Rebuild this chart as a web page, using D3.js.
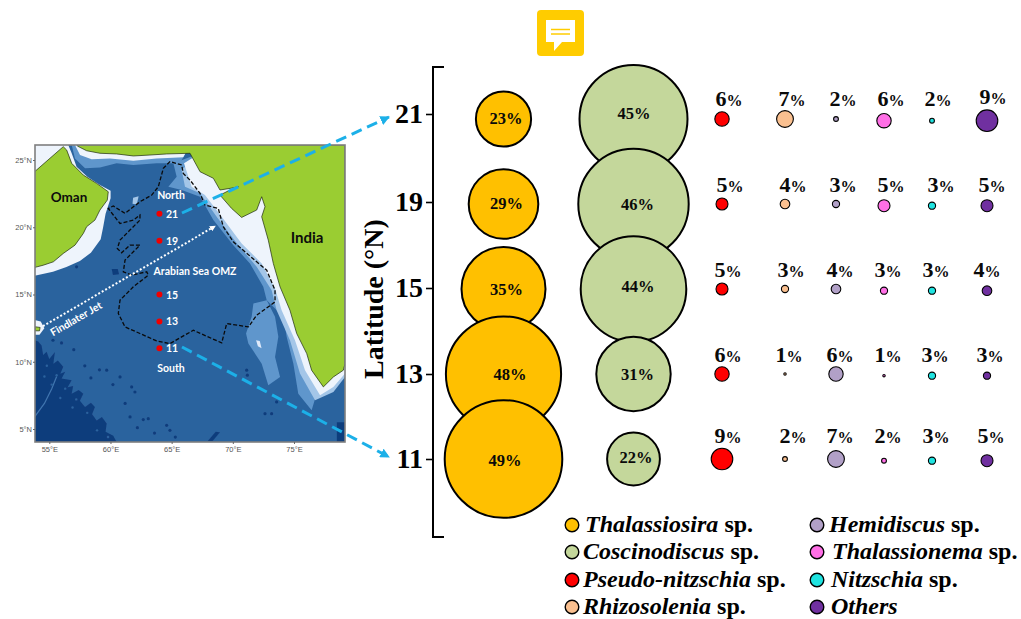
<!DOCTYPE html>
<html>
<head>
<meta charset="utf-8">
<script src="https://cdn.jsdelivr.net/npm/d3@7"></script>
<style>
  html, body { margin: 0; padding: 0; background: #fff; }
  svg { display: block; }
</style>
</head>
<body>
<svg id="chart" width="1021" height="619"></svg>
<script>
// bubble values, one row per latitude
const latitudes = [21, 19, 15, 13, 11];
const speciesNames = ["Thalassiosira", "Coscinodiscus", "Pseudo-nitzschia", "Rhizosolenia", "Hemidiscus", "Thalassionema", "Nitzschia", "Others"];
const speciesColors = ["#ffc000", "#c4d79b", "#ff0000", "#fac090", "#b1a0c7", "#ff6fe6", "#1fe3e0", "#7030a0"];
const thalassiosira = [23, 29, 35, 48, 49];
const coscinodiscus = [45, 46, 44, 31, 22];
const pseudoNitzschia = [6, 5, 5, 6, 9];
const rhizosolenia = [7, 4, 3, 1, 2];
const hemidiscus = [2, 3, 4, 6, 7];
const thalassionema = [6, 5, 3, 1, 2];
const nitzschia = [2, 3, 3, 3, 3];
const others = [9, 5, 4, 3, 5];
const shares = [thalassiosira, coscinodiscus, pseudoNitzschia, rhizosolenia, hemidiscus, thalassionema, nitzschia, others];

// map outlines as [lon, lat]
const lonTicks = [55, 60, 65, 70, 75];
const latTicks = [25, 20, 15, 10, 5];
const stationLon = 64;
const omanLand = [[56.14,25.99],[56.42,25.74],[56.83,24.75],[57.78,23.88],[58.87,23.26],[59.82,22.64],[59.74,22.02],[59.14,21.28],[58.73,20.53],[58.05,20.04],[57.78,19.54],[57.10,18.67],[56.14,18.05],[55.33,17.43],[54.51,17.18],[53.8,17.01],[53.8,24.13]];
const indiaLand = [[57.29,26.04],[58.05,25.69],[59.14,25.50],[60.50,25.45],[61.87,25.30],[63.23,25.37],[64.59,25.45],[66.50,25.50],[67.32,24.13],[68.41,23.64],[68.95,22.77],[69.77,22.89],[70.45,23.01],[69.77,22.77],[68.95,22.39],[69.90,21.40],[70.72,20.73],[71.95,21.28],[72.36,22.27],[72.63,21.53],[72.36,20.78],[72.90,19.04],[73.31,17.31],[73.86,15.57],[74.67,13.83],[75.22,12.10],[76.04,10.61],[76.44,9.37],[77.40,8.13],[78.22,8.87],[79.03,9.37],[79.17,9.86],[79.17,26.12],[57.29,26.12]];
const deepBasin = [[53.8,11.6],[54.1,11.5],[54.37,11.2],[54.5,10.5],[54.78,10.75],[55.0,10.2],[55.46,10.73],[55.33,9.86],[55.7,10.1],[56.14,9.62],[55.9,9.1],[56.3,9.25],[56.01,8.75],[56.83,8.62],[56.5,8.1],[56.95,8.2],[56.83,7.63],[57.4,7.9],[57.78,7.63],[57.5,7.1],[57.92,6.64],[58.4,6.95],[58.73,6.64],[58.5,6.1],[58.87,5.64],[59.3,5.9],[59.69,5.4],[59.6,4.8],[60.23,4.5],[60.5,4.03],[53.8,4.03]];
const deepCorner = [[78.5,5.5],[79.17,5.5],[79.17,4.03],[78.5,4.03]];
const deepPatch = [[60.1,16.9],[60.6,16.9],[60.7,16.5],[60.2,16.45]];
const deepSliver = [[67.95,4.1],[68.35,4.1],[68.95,4.75],[68.6,4.8]];
const shelfOuter = [[65.14,24.75],[65.41,23.76],[64.73,23.01],[65.82,22.77],[67.32,22.27],[68.41,20.53],[70.04,18.67],[71.40,17.31],[72.49,15.57],[72.77,14.58],[74.13,13.34],[74.40,11.85],[74.95,9.86],[75.35,7.63],[76.44,6.39],[76.85,7.63],[78.22,8.13],[79.17,9.0],[79.17,12.34],[72.77,22.27],[67.32,25.50]];
const shelfMiddle = [[65.82,24.26],[66.09,23.01],[67.32,22.52],[68.68,20.78],[70.45,18.67],[71.95,17.06],[73.17,15.32],[73.58,13.83],[74.67,11.60],[75.49,9.12],[76.72,7.13],[78.22,7.75],[79.17,8.87],[79.17,12.34],[72.77,22.27],[67.32,25.50]];
const shelfInner = [[66.01,24.75],[66.63,23.01],[67.72,22.39],[69.09,20.78],[70.72,18.80],[72.36,17.31],[73.45,15.45],[73.99,13.83],[75.08,11.60],[75.90,9.37],[77.13,7.51],[78.22,8.13],[79.17,9.12],[79.17,12.34],[72.77,22.27],[67.32,25.50]];
const laccadiveBank = [[71.68,14.33],[72.77,14.58],[73.45,13.34],[73.72,11.85],[73.45,10.36],[73.86,8.87],[72.90,8.25],[72.36,9.86],[71.27,11.35],[71.08,12.10],[71.54,13.34]];
const laccadiveFleck = [[71.9,11.6],[72.2,11.55],[72.35,11.0],[72.05,11.15]];
const omanShelf = [[53.8,26.12],[56.55,26.12],[56.83,25.5],[57.23,24.5],[58.11,23.76],[59.14,23.14],[60.01,22.72],[60.01,22.15],[59.6,21.0],[59.4,20.0],[59.2,19.1],[58.4,18.1],[57.5,17.5],[56.4,17.05],[55.3,16.7],[53.8,16.4]];
const makranOuter = [[56.83,26.12],[57.10,25.12],[57.92,24.38],[59.14,24.45],[60.5,24.75],[61.87,24.63],[63.77,24.75],[65.68,24.75],[66.5,26.12]];
const makranInner = [[57.10,26.12],[57.51,25.37],[58.46,25.05],[59.96,25.12],[61.87,24.95],[63.77,25.12],[65.95,25.2],[66.5,26.12]];
const offshoreFleck = [[61.85,22.2],[62.3,22.3],[62.15,21.7],[61.8,21.75]];
const socotraShelf = [[53.8,13.1],[54.3,13.0],[54.6,12.5],[54.2,12.0],[53.8,12.0]];
const socotraLand = [[53.85,12.6],[54.25,12.55],[54.2,12.3],[53.85,12.3]];
const omzBoundary = [[65.82,24.63],[64.86,24.88],[64.32,24.38],[63.91,23.01],[63.37,22.39],[62.41,21.9],[61.19,21.03],[60.23,21.58],[59.82,21.4],[60.23,20.91],[60.78,20.28],[61.87,20.53],[62.41,20.91],[62.41,20.53],[61.59,19.79],[60.78,19.04],[60.56,18.42],[60.91,18.1],[61.59,18.67],[62.41,18.67],[61.87,18.18],[61.19,17.56],[61.05,16.69],[61.73,16.44],[62.96,16.69],[63.09,16.44],[61.87,15.57],[60.78,14.58],[60.64,13.59],[61.19,12.59],[62.41,12.1],[63.77,11.55],[64.86,11.35],[66.77,12.34],[69.09,11.4],[69.5,12.84],[71.27,12.59],[71.95,13.46],[73.45,14.45],[73.45,15.32],[72.77,16.81],[71.95,17.43],[70.04,18.92],[69.22,20.04],[68.81,21.4],[67.72,21.65],[67.32,22.52],[66.5,23.51],[65.95,24.0],[65.82,24.63]];
const darkSpecks = [[62.68,5.7],[63.09,5.77],[64.86,4.9],[64.59,5.27],[62.0,7.75],[61.73,8.13],[60.78,8.87],[59.69,9.37],[71.13,9.37],[71.19,9.0],[73.17,6.14],[73.58,7.01],[72.63,6.14],[57.23,17.06],[57.0,10.9],[57.9,9.7],[58.4,8.8],[59.1,9.4],[60.2,8.3],[61.2,6.9],[61.6,5.9],[62.2,5.1],[63.6,4.7],[65.3,4.4],[56.0,11.4],[55.3,11.6]];
const lightSpecks = [[54.8,9.7],[55.6,9.0],[56.3,8.0],[57.2,7.2],[58.1,6.2],[58.9,4.9],[55.2,8.3],[56.9,6.6],[55.9,7.3],[59.8,4.4],[54.6,8.9]];
const jetPath = [[54.48,12.65],[68.4,20.0]];
const deepSeam = [[53.8,5.9],[54.6,6.9],[55.2,8.0],[55.6,8.9]];

const svg = d3.select("#chart");
const serif = "'Liberation Serif', 'Times New Roman', serif";
const sans = "Lato, 'Open Sans', sans-serif";

// ---- map panel ----
const frame = { left: 35, right: 345, top: 145, bottom: 442 };
const lonScale = d3.scaleLinear().domain([55, 75]).range([49.3, 294]);
const latScale = d3.scaleLinear().domain([25, 5]).range([160, 429]);
const toPath = d3.line().x(d => lonScale(d[0])).y(d => latScale(d[1]));

const defs = svg.append("defs");
defs.append("clipPath").attr("id", "mapClip").append("rect")
    .attr("x", frame.left).attr("y", frame.top)
    .attr("width", frame.right - frame.left).attr("height", frame.bottom - frame.top);
defs.append("filter").attr("id", "soft").append("feGaussianBlur").attr("stdDeviation", 0.5);

const map = svg.append("g").attr("clip-path", "url(#mapClip)");
const layers = map.append("g").attr("filter", "url(#soft)");
layers.append("rect").attr("x", frame.left).attr("y", frame.top)
    .attr("width", frame.right - frame.left).attr("height", frame.bottom - frame.top)
    .attr("fill", "#2b639e");

const fills = [
    [deepBasin, "#113c7c"], [deepCorner, "#113c7c"], [deepPatch, "#113c7c"], [deepSliver, "#113c7c"],
    [laccadiveBank, "#5f96cc"], [laccadiveFleck, "#dfeafa"], [offshoreFleck, "#a4c6e8"],
    [makranOuter, "#5f96cc"], [makranInner, "#eef4fc"],
    [shelfOuter, "#5f96cc"], [shelfMiddle, "#a4c6e8"], [shelfInner, "#eef4fc"],
    [omanShelf, "#eef4fc"], [socotraShelf, "#eef4fc"]
];
fills.forEach(([shape, color]) => {
    layers.append("path").attr("d", toPath(shape) + "Z").attr("fill", color);
});
layers.append("path").attr("d", toPath(deepSeam))
    .attr("fill", "none").attr("stroke", "#3f77b0").attr("stroke-width", 1.2);
layers.selectAll(".speck").data(darkSpecks).join("circle")
    .attr("cx", d => lonScale(d[0])).attr("cy", d => latScale(d[1]))
    .attr("r", 1.6).attr("fill", "#113c7c");
layers.selectAll(".lightSpeck").data(lightSpecks).join("circle")
    .attr("cx", d => lonScale(d[0])).attr("cy", d => latScale(d[1]))
    .attr("r", 1.2).attr("fill", "#2b639e");

[omanLand, indiaLand, socotraLand].forEach(shape => {
    map.append("path").attr("d", toPath(shape) + "Z")
        .attr("fill", "#9acd32").attr("stroke", "#1c2a10").attr("stroke-width", 0.7);
});

map.append("path").attr("d", toPath(omzBoundary))
    .attr("fill", "none").attr("stroke", "#0a0a0a")
    .attr("stroke-width", 1.3).attr("stroke-dasharray", "4,2");

// Findlater jet
defs.append("marker").attr("id", "jetHead").attr("viewBox", "0 0 6 6")
    .attr("refX", 3).attr("refY", 3).attr("markerWidth", 3).attr("markerHeight", 3).attr("orient", "auto")
    .append("path").attr("d", "M0,0L6,3L0,6Z").attr("fill", "#fff");
map.append("path").attr("d", toPath(jetPath))
    .attr("stroke", "#fff").attr("stroke-width", 2).attr("stroke-dasharray", "2,2")
    .attr("marker-end", "url(#jetHead)");

map.selectAll(".station").data(latitudes).join("circle")
    .attr("cx", lonScale(stationLon)).attr("cy", d => latScale(d))
    .attr("r", 3).attr("fill", "#f00000");
map.selectAll(".stationLabel").data(latitudes).join("text")
    .attr("x", lonScale(stationLon) + 6.5).attr("y", d => latScale(d) + 4)
    .attr("font-family", sans).attr("font-weight", 700).attr("font-size", 10.5)
    .attr("fill", "#fff").text(d => d);

const mapText = (txt, x, y, size, color, anchor) => svg.append("text")
    .attr("x", x).attr("y", y).attr("text-anchor", anchor || "middle")
    .attr("font-family", sans).attr("font-weight", 700)
    .attr("font-size", size).attr("fill", color).text(txt);
mapText("Oman", 69, 202, 13.5, "#0c0c0c");
mapText("India", 307, 243, 15, "#0c0c0c");
mapText("North", 171, 199, 10.5, "#fff");
mapText("South", 171, 372, 10.5, "#fff");
mapText("Arabian Sea OMZ", 195, 275, 10.5, "#fff");
mapText("Findlater Jet", 0, 0, 10.5, "#fff")
    .attr("transform", "translate(78,322) rotate(-30)");

svg.append("rect").attr("x", frame.left).attr("y", frame.top)
    .attr("width", frame.right - frame.left).attr("height", frame.bottom - frame.top)
    .attr("fill", "none").attr("stroke", "#7f7f7f").attr("stroke-width", 1.6);

const lonAxis = d3.axisBottom(lonScale).tickValues(lonTicks).tickSize(2).tickPadding(3).tickFormat(d => d + "\u00b0E");
const latAxis = d3.axisLeft(latScale).tickValues(latTicks).tickSize(2).tickPadding(1).tickFormat(d => d + "\u00b0N");
[
    svg.append("g").attr("transform", `translate(0,${frame.bottom})`).call(lonAxis),
    svg.append("g").attr("transform", `translate(${frame.left},0)`).call(latAxis)
].forEach(g => {
    g.select(".domain").remove();
    g.selectAll("line").attr("stroke", "#666");
    g.selectAll("text").attr("font-family", "'Liberation Sans', Arial, sans-serif")
        .attr("font-size", 7.5).attr("fill", "#555");
});

// ---- bubble panel ----
const tickY = d3.scaleOrdinal().domain(latitudes).range([114, 202, 288, 374, 459]);
const rowY = d3.scalePoint().domain(latitudes).range([119, 459]);
const colX = d3.scaleOrdinal().domain(speciesNames).range([503.5, 633.5, 722, 785, 836, 884, 932, 987]);
const radius = d3.scaleLinear().domain([0, 49]).range([0, 58.8]);
const lowerCols = new Set(["Thalassionema", "Nitzschia", "Others"]);

// small hand nudges so the labels sit where the original has them
const labelDx = [
    [2.5, 0.5, 7, 7, 7, 7, 6, 6],
    [3, 4, 8, 8, 7, 7, 9, 5],
    [3, 4.5, 6, 6, 4, 4, 4, 0],
    [6.5, 4, 6, 4, 4, 4, 3, 3],
    [1.5, 2.5, 6, 8, 4, 4, 4, 4]
];
const labelDy = [
    [5, 0, -13, -13, -13, -13, -13, -15],
    [5, 6, -12, -12, -12, -12, -12, -12],
    [6, 3, -12, -12, -12, -12, -12, -12],
    [5.5, 5.5, -12.5, -12.5, -12.5, -12.5, -12.5, -12.5],
    [7, 4, -16, -16, -16, -16, -16, -16]
];

const yAxis = d3.axisLeft(tickY).tickSize(7).tickPadding(3);
const yAxisG = svg.append("g").attr("transform", "translate(433,0)").call(yAxis);
yAxisG.select(".domain").remove();
yAxisG.selectAll("line").attr("stroke", "#000").attr("stroke-width", 1.6);
yAxisG.selectAll("text").attr("font-family", serif).attr("font-weight", 700)
    .attr("font-size", 28).attr("fill", "#000");

svg.append("path").attr("d", "M444,67H433V537H444")
    .attr("fill", "none").attr("stroke", "#000").attr("stroke-width", 2);

svg.append("text").attr("transform", "translate(383,299) rotate(-90)")
    .attr("text-anchor", "middle").attr("font-family", serif)
    .attr("font-weight", 700).attr("font-size", 28).text("Latitude (\u00b0N)");

latitudes.forEach((lat, r) => {
    speciesNames.forEach((name, c) => {
        const v = shares[c][r];
        const big = c < 2;
        const cx = colX(name);
        const cy = rowY(lat) + (lowerCols.has(name) ? 1.7 : 0);
        svg.append("circle").attr("cx", cx).attr("cy", cy).attr("r", radius(v))
            .attr("fill", speciesColors[c]).attr("stroke", "#000")
            .attr("stroke-width", big ? 2 : 1.1);
    });
});

// labels go last, the large bubbles overlap each other
latitudes.forEach((lat, r) => {
    speciesNames.forEach((name, c) => {
        const big = c < 2;
        const t = svg.append("text")
            .attr("x", colX(name) + labelDx[r][c]).attr("y", rowY(lat) + labelDy[r][c])
            .attr("text-anchor", "middle").attr("font-family", serif)
            .attr("font-weight", 700).attr("fill", "#0a0a0a");
        t.append("tspan").attr("font-size", big ? 16.5 : 22).text(shares[c][r]);
        t.append("tspan").attr("font-size", big ? 16.5 : 16).text("%");
    });
});

// ---- legend ----
const legendRowY = [525, 552, 580, 607];
const legendX = d3.scaleOrdinal().domain([0, 1]).range([572, 817]);
const legendTextX = [585, 583, 583, 583, 829, 832, 831, 831];
speciesNames.forEach((name, i) => {
    const col = i < 4 ? 0 : 1;
    const cy = legendRowY[i % 4];
    svg.append("circle").attr("cx", legendX(col)).attr("cy", cy).attr("r", 6.8)
        .attr("fill", speciesColors[i]).attr("stroke", "#000").attr("stroke-width", 1.4);
    const t = svg.append("text").attr("x", legendTextX[i]).attr("y", cy + 7)
        .attr("font-family", serif).attr("font-weight", 700)
        .attr("font-size", 24).attr("fill", "#000");
    t.append("tspan").attr("font-style", "italic").text(name);
    if (name !== "Others") t.append("tspan").text(" sp.");
});

// ---- arrows from the map to the latitude axis ----
defs.append("marker").attr("id", "blueHead").attr("viewBox", "0 0 10 10")
    .attr("refX", 9).attr("refY", 5).attr("markerWidth", 3.2).attr("markerHeight", 3.2).attr("orient", "auto")
    .append("path").attr("d", "M0,0L10,5L0,10Z").attr("fill", "#1cb0e8");
[[182, 213, 389, 117], [182, 347, 389, 457]].forEach(([x1, y1, x2, y2]) => {
    svg.append("line").attr("x1", x1).attr("y1", y1).attr("x2", x2).attr("y2", y2)
        .attr("stroke", "#1cb0e8").attr("stroke-width", 3)
        .attr("stroke-dasharray", "11,6").attr("marker-end", "url(#blueHead)");
});

// ---- comment badge at the top ----
const badge = svg.append("g");
badge.append("rect").attr("x", 537).attr("y", 10).attr("width", 47).attr("height", 46).attr("rx", 4).attr("fill", "#ffcc00");
badge.append("path").attr("d", "M546,20H575V42H562L554,51V42H546Z").attr("fill", "#fff");
[29.5, 34].forEach(y => {
    badge.append("line").attr("x1", 551).attr("x2", 570).attr("y1", y).attr("y2", y)
        .attr("stroke", "#ffcc00").attr("stroke-width", 1.5);
});
</script>
</body>
</html>
